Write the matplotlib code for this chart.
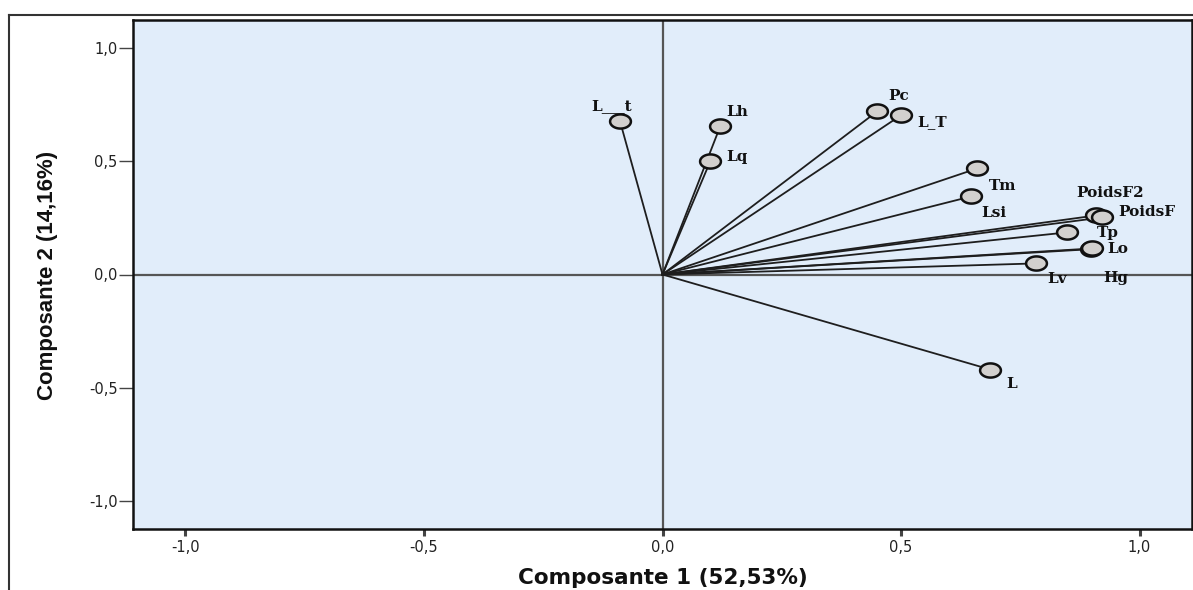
import matplotlib
matplotlib.use("Agg")
import matplotlib.pyplot as plt
import numpy as np
from matplotlib.path import Path
from matplotlib.lines import Line2D

# component loadings (composante 1, composante 2)
variables = ["L___t", "Lh", "Lq", "Pc", "L_T", "Tm", "Lsi",
             "PoidsF2", "PoidsF", "Tp", "Hg", "Lo", "Lv", "L"]
comp1 = [-0.089, 0.121, 0.100, 0.450, 0.500, 0.660, 0.647,
         0.909, 0.921, 0.848, 0.898, 0.900, 0.783, 0.687]
comp2 = [0.677, 0.655, 0.500, 0.721, 0.704, 0.469, 0.345,
         0.261, 0.252, 0.186, 0.112, 0.115, 0.049, -0.420]

tick_vals = [-1.0, -0.5, 0.0, 0.5, 1.0]
tick_text = ["-1,0", "-0,5", "0,0", "0,5", "1,0"]

# label offsets in pixels (dx, dy) and horizontal alignment
label_pos = {
    "L___t": (-8, 15, "center"), "Lh": (6, 14, "left"), "Lq": (16, 4, "left"),
    "Pc": (11, 15, "left"), "L_T": (16, -7, "left"), "Tm": (12, -18, "left"),
    "Lsi": (10, -17, "left"), "PoidsF2": (-20, 22, "left"),
    "PoidsF": (16, 5, "left"), "Tp": (30, -1, "left"), "Lo": (15, -1, "left"),
    "Hg": (12, -29, "left"), "Lv": (11, -16, "left"), "L": (16, -14, "left"),
}

fig = plt.figure(figsize=(11.93, 5.90), dpi=100)
ax = fig.add_axes([133 / 1193, 61 / 590, 1059 / 1193, 509 / 590])
ax.set_facecolor("#e1edfa")
ax.set_xlim(-1.11, 1.11)
ax.set_ylim(-1.125, 1.125)

ax.axhline(0, color="#555555", lw=1.6, zorder=1)
ax.axvline(0, color="#555555", lw=1.6, zorder=1)

# flattened circle marker
t = np.linspace(0, 2 * np.pi, 60)
ellipse = Path(np.column_stack([np.cos(t), 0.68 * np.sin(t)]), closed=True)

for name, x, y in zip(variables, comp1, comp2):
    ax.plot([0, x], [0, y], color="#1e1e1e", lw=1.3, zorder=2)
for name, x, y in zip(variables, comp1, comp2):
    ax.plot(x, y, marker=ellipse, markersize=15, markerfacecolor="#d2d0ce",
            markeredgecolor="#111111", markeredgewidth=1.8, zorder=3)
    dx, dy, ha = label_pos[name]
    ax.annotate(name, (x, y), xytext=(dx, dy), textcoords="offset pixels",
                ha=ha, va="center", fontsize=11, fontweight="bold",
                family="DejaVu Serif", color="#111111", zorder=4)

ax.set_xticks(tick_vals)
ax.set_xticklabels(tick_text)
ax.set_yticks(tick_vals)
ax.set_yticklabels(tick_text)
ax.tick_params(axis="x", direction="out", length=5, width=2.2, color="#444444",
               labelsize=10.5, pad=3)
ax.tick_params(axis="y", direction="out", length=10, width=1.0, color="#444444",
               labelsize=10.5, pad=1)
for lbl in ax.get_xticklabels() + ax.get_yticklabels():
    lbl.set_family("DejaVu Sans")
    lbl.set_color("#222222")

for s in ax.spines.values():
    s.set_linewidth(1.8)
    s.set_color("#111111")

fig.text(663 / 1193, 1 - 578 / 590, "Composante 1 (52,53%)", ha="center",
         va="center", fontsize=15.5, fontweight="bold", family="DejaVu Sans",
         color="#111111")
fig.text(48 / 1193, 1 - 275 / 590, "Composante 2 (14,16%)", ha="center",
         va="center", rotation=90, fontsize=16, fontweight="bold",
         family="Liberation Sans", color="#111111")

# outer frame (left and top edges)
fig.add_artist(Line2D([9 / 1193, 9 / 1193], [0, 1 - 15 / 590],
                      transform=fig.transFigure, color="#333333", lw=1.5))
fig.add_artist(Line2D([9 / 1193, 1], [1 - 15 / 590, 1 - 15 / 590],
                      transform=fig.transFigure, color="#333333", lw=1.5))

fig.savefig("out.png", dpi=100)
